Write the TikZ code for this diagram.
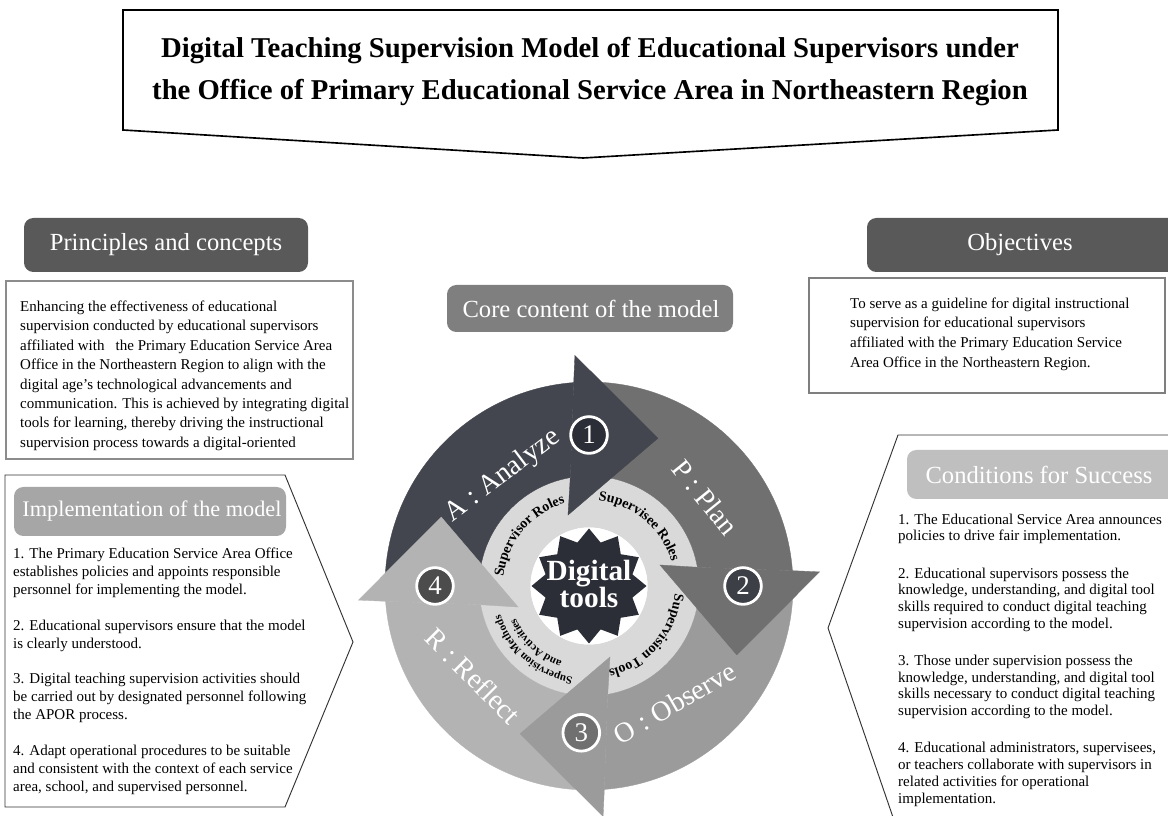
\documentclass[tikz,border=0pt]{standalone}
\usepackage{fontspec}
\setmainfont{Liberation Serif}
\usetikzlibrary{shapes.geometric,decorations.text}
\definecolor{slate}{HTML}{43464E}
\definecolor{slatedark}{HTML}{2B2E37}
\definecolor{plangray}{HTML}{707070}
\definecolor{obsgray}{HTML}{9B9B9B}
\definecolor{refgray}{HTML}{B3B3B3}
\definecolor{ringgray}{HTML}{D9D9D9}
\definecolor{headdark}{HTML}{595959}
\definecolor{headmid}{HTML}{7F7F7F}
\definecolor{headlight}{HTML}{A6A6A6}
\definecolor{headpale}{HTML}{BFBFBF}
\definecolor{boxline}{HTML}{8C8C8C}
\newcommand{\ringfont}{\bfseries\fontsize{12}{12}\selectfont}
\newcommand{\ringsmall}{\bfseries\fontsize{9.5}{9.5}\selectfont}
\tikzset{
	headtext/.style={text=white,font=\fontsize{21}{24}\selectfont},
	bodytext/.style={anchor=north west,align=left,inner sep=0pt},
	numcirc/.style={circle,draw=white,line width=2.4pt,minimum size=1.1cm,inner sep=0pt,text=white,font=\fontsize{23}{23}\selectfont},
	phaselabel/.style={text=white,font=\fontsize{24}{24}\selectfont}
}
\begin{document}
\begin{tikzpicture}[x=0.03cm,y=0.03cm]
	\clip (0,0) rectangle (1168,816);
	\fill[white] (0,0) rectangle (1168,816);
	\draw[line width=1.4pt] (123,806)--(1058,806)--(1058,686)--(583,658)--(123,686)--cycle;
	\node[font=\bfseries\fontsize{24.5}{35.9}\selectfont,align=center] (title) at (590,744) {Digital Teaching Supervision Model of Educational Supervisors under\\the Office of Primary Educational Service Area in Northeastern Region};

	\fill[headdark,rounded corners=8pt] (24,544) rectangle (308,598);
	\node[headtext] (princ) at (166,571) {Principles and concepts};
	\draw[boxline,line width=1pt] (6,357) rectangle (353,535);
	\node[bodytext,font=\fontsize{12.8}{16.6}\selectfont] (princtext) at (20,515.5) {Enhancing the effectiveness of educational\\supervision conducted by educational supervisors\\affiliated with \ \ the Primary Education Service Area\\Office in the Northeastern Region to align with the\\digital age's technological advancements and\\communication. This is achieved by integrating digital\\tools for learning, thereby driving the instructional\\supervision process towards a digital-oriented};

	\draw[black!80,line width=0.8pt] (5,341)--(285,341)--(353,174)--(285,9)--(5,9)--cycle;
	\fill[headlight,rounded corners=8pt] (14,280) rectangle (286,329);
	\node[headtext,font=\fontsize{19}{22}\selectfont] (impl) at (152,304.5) {Implementation of the model};
	\node[bodytext,font=\fontsize{12.8}{15.4}\selectfont] (impltext) at (13,268) {1. The Primary Education Service Area Office\\establishes policies and appoints responsible\\personnel for implementing the model.\\[14.8pt]2. Educational supervisors ensure that the model\\is clearly understood.\\[14.8pt]3. Digital teaching supervision activities should\\be carried out by designated personnel following\\the APOR process.\\[14.8pt]4. Adapt operational procedures to be suitable\\and consistent with the context of each service\\area, school, and supervised personnel.};

	\fill[headdark,rounded corners=8pt] (867,544) rectangle (1190,598);
	\node[headtext] (objec) at (1020,571) {Objectives};
	\draw[headmid,line width=2.5pt] (809,423) rectangle (1165,538);
	\node[bodytext,font=\fontsize{12.8}{16.8}\selectfont] (objectext) at (850,518.5) {To serve as a guideline for digital instructional\\supervision for educational supervisors\\affiliated with the Primary Education Service\\Area Office in the Northeastern Region.};

	\draw[black!80,line width=0.8pt] (1190,381)--(898,381)--(828,188)--(896,-10);
	\fill[headpale,rounded corners=8pt] (907,317) rectangle (1190,366);
	\node[headtext] (cond) at (1039,341.5) {Conditions for Success};
	\node[bodytext,font=\fontsize{12.8}{14.25}\selectfont] (condtext) at (898,302.5) {1. The Educational Service Area announces\\policies to drive fair implementation.\\[17.6pt]2. Educational supervisors possess the\\knowledge, understanding, and digital tool\\skills required to conduct digital teaching\\supervision according to the model.\\[17.6pt]3. Those under supervision possess the\\knowledge, understanding, and digital tool\\skills necessary to conduct digital teaching\\supervision according to the model.\\[17.6pt]4. Educational administrators, supervisees,\\or teachers collaborate with supervisors in\\related activities for operational\\implementation.};

	\fill[headmid,rounded corners=8pt] (447,484) rectangle (733,531);
	\node[headtext] (core) at (591,507.5) {Core content of the model};

	\begin{scope}[shift={(589,230)}]
		\fill[ringgray,even odd rule] (0,0) circle (110) (0,0) circle (58.5);
		\foreach \col [count=\k from 0] in {slate,plangray,obsgray,refgray}
			\fill[\col,draw=\col,line width=0.3pt,rotate=-90*\k] (180:204) arc[start angle=180,end angle=94.3,radius=204] -- (99.8:110) arc[start angle=99.8,end angle=180,radius=110] -- cycle;
		\foreach \col [count=\k from 0] in {slate,plangray,obsgray,refgray}
			\fill[\col,draw=\col,line width=0.3pt,rotate=-90*\k] (94.3:204) -- (93.5:231) -- (65:163) -- (106.5:74) -- (99.8:110) -- cycle;
		\fill[white] (0,0) circle (58.5);
		\node[star,star points=12,star point ratio=1.28,fill=slatedark,minimum size=3.45cm,inner sep=0pt] (star) at (0,0) {};
		\node[text=white,font=\bfseries\fontsize{25}{23}\selectfont,align=center] (dtools) at (0,2) {Digital\\tools};

		\path[decorate,decoration={text along path,text align=center,text={|\ringfont|Supervisor Roles}}] (185:86) arc[start angle=185,end angle=95,radius=86];
		\path[decorate,decoration={text along path,text align=center,text={|\ringfont|Supervisee Roles}}] (95:86) arc[start angle=95,end angle=5,radius=86];
		\path[decorate,decoration={text along path,text align=center,text={|\ringfont|Supervision Tools}}] (4:86) arc[start angle=4,end angle=-86,radius=86];
		\path[decorate,decoration={text along path,text align=center,text={|\ringsmall|Supervision Methods}}] (-86:93) arc[start angle=-86,end angle=-176,radius=93];
		\path[decorate,decoration={text along path,text align=center,text={|\ringsmall|and Activities}}] (-88:80) arc[start angle=-88,end angle=-178,radius=80];

		\node[phaselabel,rotate=37] (lanalyze) at (-86,110) {A : Analyze};
		\node[phaselabel,rotate=-51] (lplan) at (116,89) {P : Plan};
		\node[phaselabel,rotate=30] (lobserve) at (86,-117) {O : Observe};
		\node[phaselabel,rotate=-45] (lreflect) at (-116,-90) {R : Reflect};

		\node[numcirc,fill=slatedark] (n1) at (90:151) {1};
		\node[numcirc,fill=slate!90!black] (n2) at (0:154) {2};
		\node[numcirc,fill=plangray] (n3) at (267:147) {3};
		\node[numcirc,fill=headdark!85!black] (n4) at (180:154) {4};
	\end{scope}
\end{tikzpicture}
\end{document}
